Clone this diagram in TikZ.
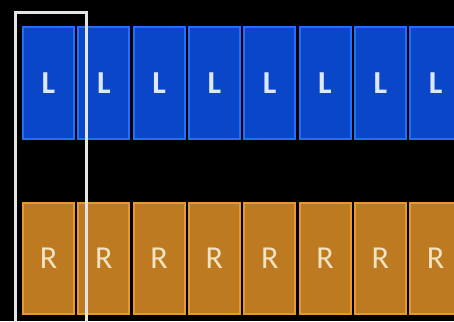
\documentclass[tikz,border=0pt]{standalone}
\usepackage{fontspec}
\setmainfont{Carlito}
\usetikzlibrary{positioning}
\definecolor{LaneBlue}{RGB}{10, 70, 200}
\definecolor{LaneBlueEdge}{RGB}{35, 110, 250}
\definecolor{LaneOrange}{RGB}{190, 122, 32}
\definecolor{LaneOrangeEdge}{RGB}{232, 152, 48}
\definecolor{LetterL}{RGB}{222, 232, 250}
\definecolor{LetterR}{RGB}{242, 228, 195}

\begin{document}
\begin{tikzpicture}[
  x=1pt, y=-1pt,
  lbox/.style={draw=LaneBlueEdge, fill=LaneBlue, line width=2pt, minimum width=51pt, minimum height=112pt, inner sep=0pt, text=LetterL, font=\fontsize{32}{32}\selectfont\bfseries},
  rbox/.style={draw=LaneOrangeEdge, fill=LaneOrange, line width=2pt, minimum width=51pt, minimum height=111pt, inner sep=0pt, text=LetterR, font=\fontsize{32}{32}\selectfont},
  frame/.style={draw=white!90!black, line width=3pt}
]
  \fill[black] (0,0) rectangle (454,321);
  \useasboundingbox (0,0) rectangle (454,321);

  % upper and lower rows
  \foreach \i in {0,...,7} {
    \node[lbox] (l\i) at (48.5+55.3*\i, 83) {L};
    \node[rbox] (r\i) at (48.5+55.3*\i, 258.5) {R};
  }

  % selection window
  \coordinate (wtl) at (15, 13);
  \coordinate (wbr) at (86, 330);
  \draw[frame] (wtl |- wbr) -- (wtl) -- (wbr |- wtl) -- (wbr);
\end{tikzpicture}
\end{document}
